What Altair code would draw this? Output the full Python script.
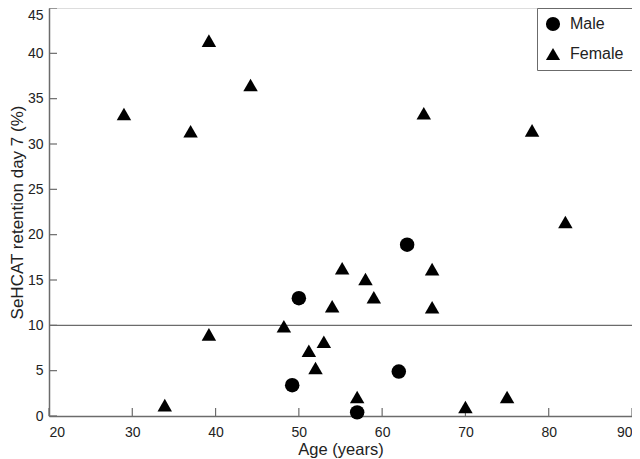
import altair as alt
import pandas as pd

# Data
ages_male = [50, 49.2, 63, 62, 57]
ret_male = [13.0, 3.4, 18.9, 4.9, 0.4]
ages_female = [29, 37, 39.2, 44.2, 65, 78, 82, 48.2, 39.2, 51.2, 52, 33.9,
               55.2, 66, 58, 59, 54, 66, 53, 57, 75, 70]
ret_female = [33.3, 31.4, 41.4, 36.5, 33.4, 31.5, 21.4, 9.9, 9.0, 7.2, 5.3, 1.2,
              16.3, 16.2, 15.1, 13.1, 12.1, 12.0, 8.2, 2.1, 2.1, 1.0]
groups = ["Male", "Female"]
x_ticks = [20, 30, 40, 50, 60, 70, 80, 90]
y_ticks = [0, 5, 10, 15, 20, 25, 30, 35, 40, 45]
cutoff = [10]

W, H = 583, 408
FONT = "Liberation Sans"
GREY = "#6b6b6b"

pts = pd.DataFrame({
    "age": ages_male + ages_female,
    "ret": ret_male + ret_female,
    "sex": [groups[0]] * len(ages_male) + [groups[1]] * len(ages_female),
})
cut_df = pd.DataFrame({"y": cutoff, "x0": [x_ticks[0]], "x1": [x_ticks[-1]]})
xt_df = pd.DataFrame({"x": x_ticks})
yt_df = pd.DataFrame({"y": y_ticks})

xscale = alt.Scale(domain=[x_ticks[0], x_ticks[-1]], nice=False, zero=False)
yscale = alt.Scale(domain=[y_ticks[0], y_ticks[-1]], nice=False)

xaxis = alt.Axis(values=x_ticks, ticks=False, grid=False, labelFontSize=14,
                 labelPadding=9, title="Age (years)", titleFontSize=16.5,
                 titleFontWeight="normal", titlePadding=2, domainColor=GREY,
                 domainWidth=1.5, labelColor="#222", titleColor="#222")
yaxis = alt.Axis(values=y_ticks, ticks=False, grid=False, labelFontSize=14,
                 labelPadding=6,
                 labelBaseline={"condition": {"test": "datum.value >= 45", "value": "top"},
                                "value": "middle"},
                 title="SeHCAT retention day 7 (%)", titleFontSize=17,
                 titleFontWeight="normal", titlePadding=1, domainColor=GREY,
                 domainWidth=1.5, labelColor="#222", titleColor="#222")

cut = alt.Chart(cut_df).mark_rule(color=GREY, strokeWidth=1.4).encode(
    x=alt.X("x0:Q", scale=xscale, axis=xaxis),
    x2="x1:Q",
    y=alt.Y("y:Q", scale=yscale, axis=yaxis),
)

xt = alt.Chart(xt_df).mark_rule(color=GREY, strokeWidth=1.2).encode(
    x=alt.X("x:Q", scale=xscale, axis=xaxis),
    y=alt.value(H),
    y2=alt.value(H - 8),
)
yt = alt.Chart(yt_df).mark_rule(color=GREY, strokeWidth=1.2).encode(
    y=alt.Y("y:Q", scale=yscale, axis=yaxis),
    x=alt.value(0),
    x2=alt.value(8),
)

points = alt.Chart(pts).mark_point(filled=True, opacity=1, color="black", size=210).encode(
    x=alt.X("age:Q", scale=xscale, axis=xaxis),
    y=alt.Y("ret:Q", scale=yscale, axis=yaxis),
    shape=alt.Shape("sex:N", scale=alt.Scale(domain=groups, range=["circle", "triangle-up"]),
                    legend=alt.Legend(title=None, orient="top-right", offset=0,
                                      strokeColor=GREY, fillColor="white",
                                      padding=8, rowPadding=14, labelFontSize=16,
                                      labelOffset=9, symbolSize=200,
                                      symbolFillColor="black", symbolStrokeWidth=0,
                                      labelColor="#222")),
)

chart = alt.layer(cut, xt, yt, points).properties(
    width=W, height=H,
    autosize=alt.AutoSizeParams(type="none"),
    padding={"left": 41, "top": 0, "right": 0, "bottom": 50},
).configure_view(stroke=None).configure(font=FONT).configure_legend(strokeWidth=1)

chart.save("out.html", embed_options={"renderer": "svg", "actions": False})
